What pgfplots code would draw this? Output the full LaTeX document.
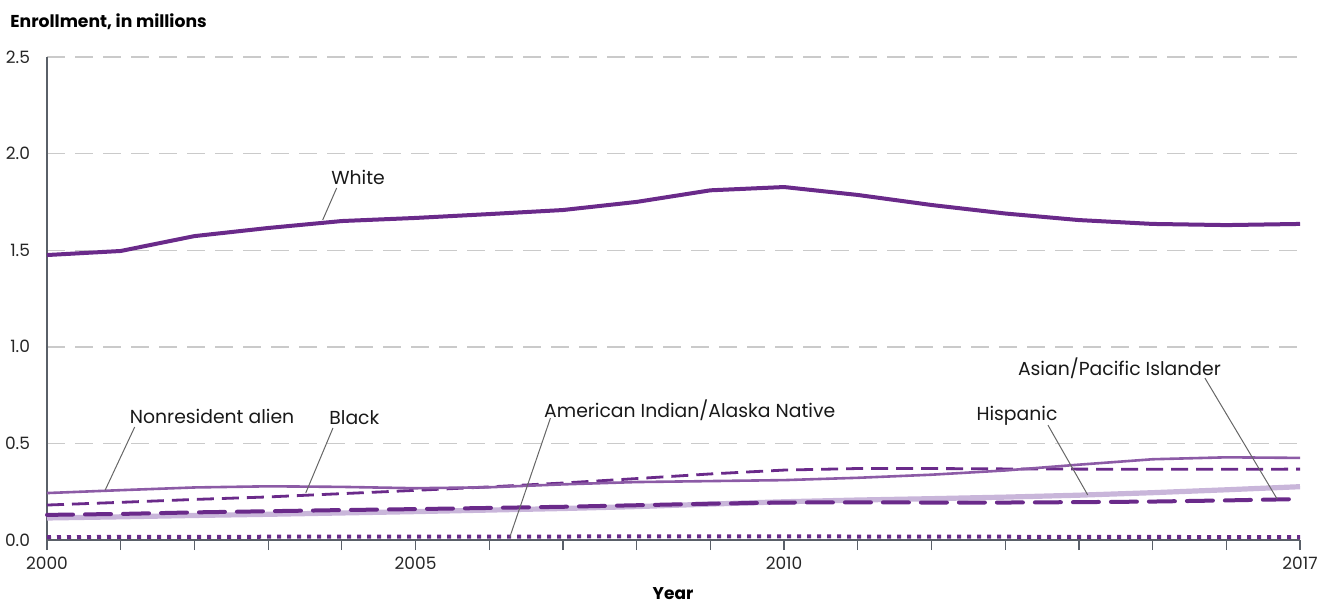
\documentclass[border=0pt]{standalone}
\usepackage{fontspec}
\setmainfont{Poppins}
\usepackage{pgfplots}
\pgfplotsset{compat=1.18}
\definecolor{dpurple}{HTML}{6A2A8A}
\definecolor{mpurple}{HTML}{8C5BA6}
\definecolor{lpurple}{HTML}{C9B6DA}
\definecolor{gridgray}{HTML}{CACACA}
\definecolor{axisgray}{HTML}{5A6068}
\definecolor{leader}{HTML}{666666}

\pgfplotstableread{
year white nonres black asian hisp aian
2000 1.475 0.243 0.181 0.130 0.114 0.015
2001 1.496 0.258 0.195 0.135 0.120 0.016
2002 1.573 0.272 0.210 0.143 0.127 0.016
2003 1.615 0.278 0.223 0.149 0.133 0.017
2004 1.651 0.275 0.240 0.155 0.140 0.017
2005 1.667 0.268 0.257 0.160 0.147 0.017
2006 1.687 0.273 0.275 0.166 0.155 0.018
2007 1.708 0.288 0.295 0.172 0.163 0.018
2008 1.750 0.300 0.318 0.180 0.173 0.019
2009 1.810 0.305 0.342 0.188 0.186 0.019
2010 1.827 0.310 0.362 0.194 0.198 0.019
2011 1.786 0.322 0.370 0.195 0.207 0.018
2012 1.734 0.338 0.370 0.194 0.214 0.018
2013 1.690 0.360 0.368 0.194 0.222 0.017
2014 1.656 0.390 0.367 0.196 0.232 0.016
2015 1.636 0.418 0.366 0.199 0.245 0.016
2016 1.630 0.428 0.366 0.205 0.260 0.015
2017 1.636 0.425 0.367 0.212 0.276 0.015
}\datatable

\begin{document}
\begin{tikzpicture}[font=\fontsize{8.5}{10}\selectfont,
  lbl/.style={anchor=center, font=\fontsize{9.4}{11}\selectfont, text=black!90}]
\useasboundingbox (0,0) rectangle (660pt,301pt);
\begin{axis}[
  at={(23.5pt,31pt)}, anchor=south west,
  scale only axis, width=626.5pt, height=241.5pt,
  xmin=2000, xmax=2017, ymin=0, ymax=2.5,
  axis x line*=bottom, axis y line*=left,
  axis line style={axisgray, line width=0.6pt},
  clip=false,
  ytick={0,0.5,1,1.5,2,2.5},
  ymajorgrids,
  grid style={gridgray, line width=0.7pt, dash pattern=on 9pt off 5pt},
  ytick style={draw=none},
  yticklabel style={/pgf/number format/fixed,/pgf/number format/fixed zerofill,/pgf/number format/precision=1, text=black!85},
  xtick={2000,2005,2010,2017},
  minor xtick={2001,2002,2003,2004,2006,2007,2008,2009,2011,2012,2013,2014,2015,2016},
  xticklabel style={/pgf/number format/1000 sep={}, text=black!85},
  tick align=outside,
  major tick length=5pt, minor tick length=5pt,
  xtick style={axisgray, line width=0.6pt},
  minor tick style={axisgray, line width=0.6pt},
  /pgf/number format/assume math mode=true,
]
\addplot[lpurple, line width=2.6pt, no markers] table[x=year,y=hisp]{\datatable};
\addplot[dpurple, line width=2pt, no markers, dash pattern=on 13pt off 6pt, line cap=round] table[x=year,y=asian]{\datatable};
\addplot[dpurple, line width=1.4pt, no markers, dash pattern=on 8.5pt off 4pt] table[x=year,y=black]{\datatable};
\addplot[mpurple, line width=1.3pt, no markers] table[x=year,y=nonres]{\datatable};
\addplot[dpurple, line width=2pt, no markers, dash pattern=on 2pt off 3pt] table[x=year,y=aian]{\datatable};
\addplot[dpurple, line width=2pt, no markers] table[x=year,y=white]{\datatable};

\node[lbl] at (axis cs:2004.22,1.879) {White};
\draw[leader, line width=0.5pt] (axis cs:2003.93,1.822) -- (axis cs:2003.74,1.656);
\node[lbl] at (axis cs:2002.24,0.642) {Nonresident alien};
\draw[leader, line width=0.5pt] (axis cs:2001.19,0.585) -- (axis cs:2000.79,0.259);
\node[lbl] at (axis cs:2004.17,0.631) {Black};
\draw[leader, line width=0.5pt] (axis cs:2003.88,0.580) -- (axis cs:2003.51,0.243);
\node[lbl] at (axis cs:2008.72,0.673) {American Indian/Alaska Native};
\draw[leader, line width=0.5pt] (axis cs:2006.83,0.631) -- (axis cs:2006.28,0.016);
\node[lbl] at (axis cs:2013.16,0.642) {Hispanic};
\draw[leader, line width=0.5pt] (axis cs:2013.58,0.595) -- (axis cs:2014.12,0.233);
\node[lbl] at (axis cs:2014.55,0.890) {Asian/Pacific Islander};
\draw[leader, line width=0.5pt] (axis cs:2015.71,0.838) -- (axis cs:2016.69,0.212);
\end{axis}
\node[anchor=base west, inner sep=0pt, font=\fontsize{8.6}{10}\selectfont\bfseries] at (5pt,287.5pt) {Enrollment, in millions};
\node[anchor=base, font=\fontsize{8.5}{10}\selectfont\bfseries] at (336.5pt,1.5pt) {Year};
\end{tikzpicture}
\end{document}
